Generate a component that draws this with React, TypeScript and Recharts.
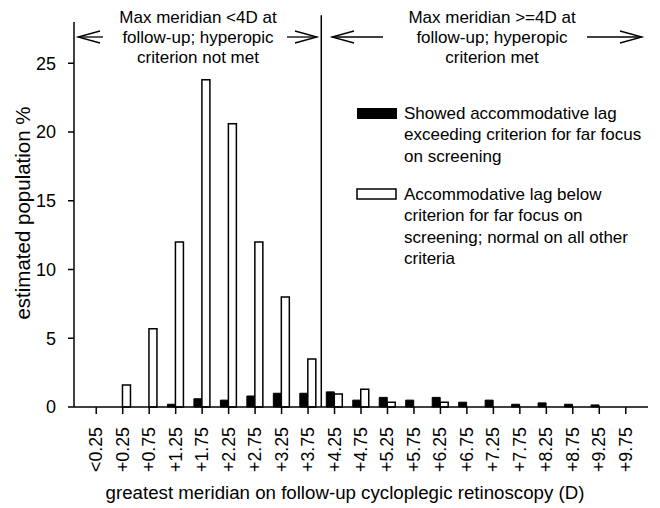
import { Bar, BarChart, ReferenceLine, XAxis, YAxis } from "recharts";

const categories = [
  "<0.25", "+0.25", "+0.75", "+1.25", "+1.75", "+2.25", "+2.75", "+3.25", "+3.75", "+4.25", "+4.75",
  "+5.25", "+5.75", "+6.25", "+6.75", "+7.25", "+7.75", "+8.25", "+8.75", "+9.25", "+9.75",
];

// accommodative lag exceeding far-focus criterion (black bars)
const lagExceeded = [
  null, null, null, 0.2, 0.6, 0.5, 0.8, 1.0, 1.0, 1.1, 0.5,
  0.7, 0.5, 0.7, 0.35, 0.5, 0.2, 0.3, 0.2, 0.15, null,
];

// lag below criterion, normal on all other criteria (white bars)
const lagBelow = [
  null, 1.6, 5.7, 12.0, 23.8, 20.6, 12.0, 8.0, 3.5, 0.95, 1.3,
  0.35, null, 0.35, null, null, null, null, null, null, null,
];

const yTicks = [0, 5, 10, 15, 20, 25];

const leftNote = ["Max meridian <4D at", "follow-up; hyperopic", "criterion not met"];
const rightNote = ["Max meridian >=4D at", "follow-up; hyperopic", "criterion met"];
const legendBlack = ["Showed accommodative lag", "exceeding criterion for far focus", "on screening"];
const legendWhite = [
  "Accommodative lag below",
  "criterion for far focus on",
  "screening; normal on all other",
  "criteria",
];

const data = categories.map((cat, i) => ({ cat, exceeded: lagExceeded[i], below: lagBelow[i] }));

const FONT = "'Liberation Sans', Arial, sans-serif";

if (typeof document !== "undefined") {
  document.body.style.margin = "0";
  document.body.style.overflow = "hidden";
}

function XTick({ x, y, payload }: any) {
  const ty = y + 11;
  return (
    <text
      x={x}
      y={ty}
      transform={`rotate(-90, ${x}, ${ty})`}
      textAnchor="end"
      dominantBaseline="central"
      fontSize={17.8}
      fontFamily={FONT}
      fill="#000"
    >
      {payload.value}
    </text>
  );
}

function Arrow({ x1, x2, y }: { x1: number; x2: number; y: number }) {
  // tip at x1
  const dir = x2 > x1 ? 1 : -1;
  return (
    <g stroke="#000" strokeWidth={1.3} fill="none">
      <line x1={x1} y1={y} x2={x2} y2={y} />
      <polyline points={`${x1 + dir * 22},${y - 6} ${x1},${y} ${x1 + dir * 22},${y + 6}`} />
    </g>
  );
}

export default function App() {
  return (
    <div style={{ position: "relative", width: 660, height: 508, background: "#fff", overflow: "hidden" }}>
      <BarChart
        width={660}
        height={508}
        data={data}
        margin={{ top: 22, right: 12, bottom: 0, left: 0 }}
        barGap={0}
        barSize={8}
      >
        <XAxis
          dataKey="cat"
          interval={0}
          tickSize={7}
          padding={{ left: 9, right: 9 }}
          height={101}
          stroke="#000"
          strokeWidth={1.5}
          tick={<XTick />}
        />
        <YAxis
          width={74}
          domain={[0, 28]}
          ticks={yTicks}
          tickSize={6}
          tickMargin={12}
          stroke="#000"
          strokeWidth={1.5}
          tick={{ fontSize: 18, fontFamily: FONT, fill: "#000" }}
        />
        <ReferenceLine
          segment={[
            { x: "+4.25", y: 0 },
            { x: "+4.25", y: 28.5 },
          ]}
          position="start"
          ifOverflow="visible"
          stroke="#000"
          strokeWidth={1.5}
        />
        <Bar dataKey="exceeded" fill="#000" stroke="#000" strokeWidth={1} isAnimationActive={false} />
        <Bar dataKey="below" fill="#fff" stroke="#000" strokeWidth={1.5} isAnimationActive={false} />
      </BarChart>
      <svg
        width={660}
        height={508}
        style={{ position: "absolute", left: 0, top: 0, pointerEvents: "none" }}
        fontFamily={FONT}
      >
        {leftNote.map((t, i) => (
          <text key={t} x={198} y={17 + i * 20} textAnchor="middle" dominantBaseline="central" fontSize={17}>
            {t}
          </text>
        ))}
        {rightNote.map((t, i) => (
          <text key={t} x={492} y={17 + i * 20} textAnchor="middle" dominantBaseline="central" fontSize={17}>
            {t}
          </text>
        ))}
        <Arrow x1={78} x2={103} y={37} />
        <Arrow x1={317} x2={287} y={37} />
        <Arrow x1={332} x2={383} y={37} />
        <Arrow x1={642} x2={587} y={37} />

        <rect x={357} y={108} width={40} height={11} fill="#000" />
        {legendBlack.map((t, i) => (
          <text key={t} x={404} y={113 + i * 21.5} dominantBaseline="central" fontSize={17}>
            {t}
          </text>
        ))}
        <rect x={357} y={189} width={39} height={10} fill="#fff" stroke="#000" strokeWidth={1.5} />
        {legendWhite.map((t, i) => (
          <text key={t} x={404} y={194 + i * 21.5} dominantBaseline="central" fontSize={17}>
            {t}
          </text>
        ))}
        <text
          x={22}
          y={213}
          transform="rotate(-90, 22, 213)"
          textAnchor="middle"
          dominantBaseline="central"
          fontSize={20.5}
        >
          estimated population %
        </text>
        <text x={345} y={492} textAnchor="middle" dominantBaseline="central" fontSize={18.7}>
          greatest meridian on follow-up cycloplegic retinoscopy (D)
        </text>
      </svg>
    </div>
  );
}
